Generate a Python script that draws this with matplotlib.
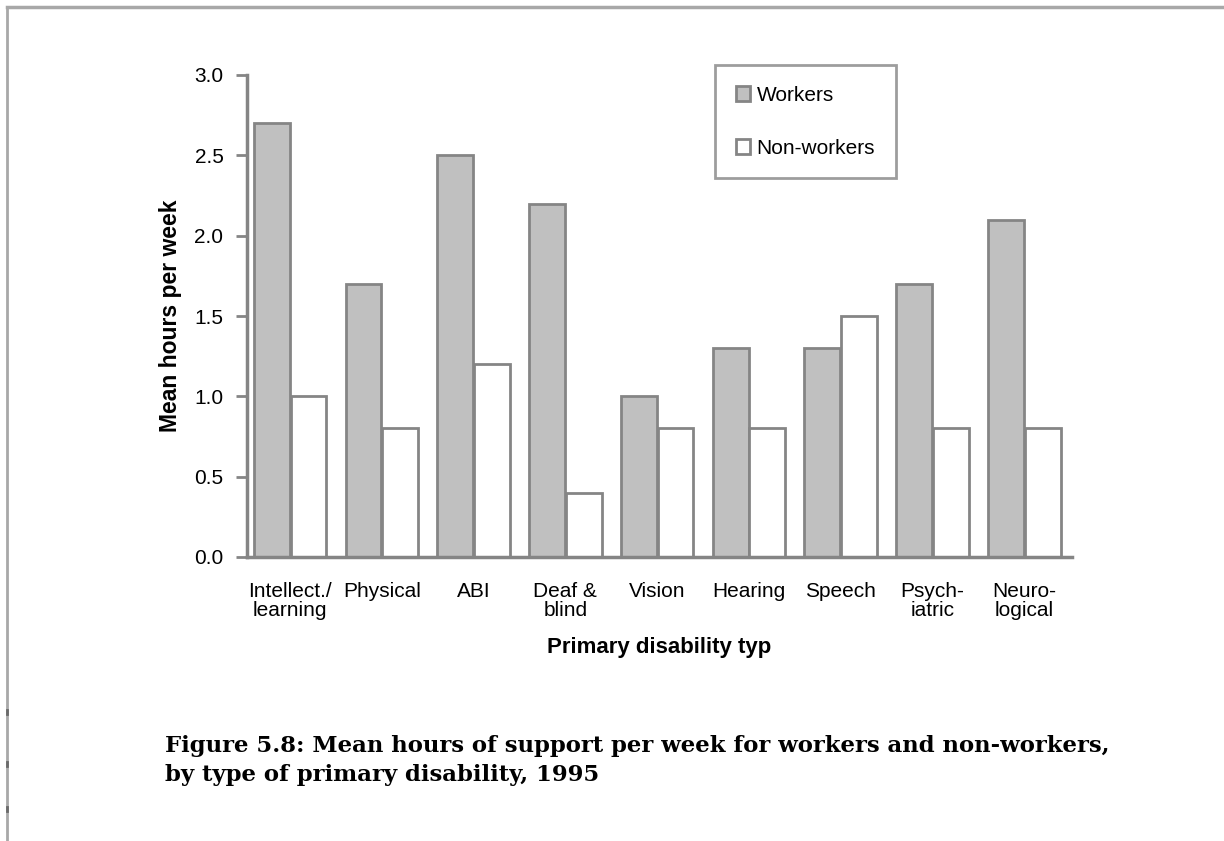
import numpy as np
import matplotlib.pyplot as plt
from matplotlib.lines import Line2D
from matplotlib.patches import Patch

categories = ['Intellect./\nlearning', 'Physical', 'ABI', 'Deaf &\nblind', 'Vision',
              'Hearing', 'Speech', 'Psych-\niatric', 'Neuro-\nlogical']
workers = [2.7, 1.7, 2.5, 2.2, 1.0, 1.3, 1.3, 1.7, 2.1]
non_workers = [1.0, 0.8, 1.2, 0.4, 0.8, 0.8, 1.5, 0.8, 0.8]
yticks = [0.0, 0.5, 1.0, 1.5, 2.0, 2.5, 3.0]
caption = ('Figure 5.8: Mean hours of support per week for workers and non-workers,\n'
           'by type of primary disability, 1995')

plt.rcParams['font.family'] = ['Liberation Sans', 'DejaVu Sans']
edge = '#858585'
grey = '#c0c0c0'

W, H = 1224, 841
fig = plt.figure(figsize=(W / 100, H / 100), dpi=100)
ax = fig.add_axes([247 / W, 1 - 557 / H, 825 / W, 482 / H])

x = np.arange(len(categories))
w = 0.39
ax.bar(x - 0.2, workers, w, color=grey, edgecolor=edge, linewidth=2)
ax.bar(x + 0.2, non_workers, w, color='white', edgecolor=edge, linewidth=2)

ax.set_xlim(-0.47, len(categories) - 0.48)
ax.set_ylim(0, 3.0)
ax.set_yticks(yticks)
ax.set_yticklabels(['%.1f' % v for v in yticks], fontsize=15)
ax.set_xticks(x)
ax.set_xticklabels(categories, fontsize=15, linespacing=1.02)
ax.tick_params(axis='x', length=0, pad=18)
ax.tick_params(axis='y', length=8, width=2, color=edge, pad=9)

for s in ['top', 'right']:
    ax.spines[s].set_visible(False)
for s in ['left', 'bottom']:
    ax.spines[s].set_color(edge)
    ax.spines[s].set_linewidth(2.5)

ax.set_ylabel('Mean hours per week', fontsize=16.5, fontweight='bold', labelpad=9)
ax.set_xlabel('Primary disability typ', fontsize=16, fontweight='bold', labelpad=12)

handles = [Patch(facecolor=grey, edgecolor=edge, linewidth=2),
           Patch(facecolor='white', edgecolor=edge, linewidth=2)]
leg = fig.legend(handles, ['Workers', 'Non-workers'], loc='upper left',
                 bbox_to_anchor=(715 / W, 1 - 65 / H), fontsize=15,
                 handlelength=0.7, handleheight=0.7, handletextpad=0.3,
                 labelspacing=1.62, borderpad=1.0, borderaxespad=0,
                 fancybox=False, frameon=True)
leg.get_frame().set_edgecolor(edge)
leg.get_frame().set_linewidth(2)

# page frame lines and small marks on the left rule
fig.add_artist(Line2D([7 / W, 1], [1 - 7 / H] * 2, color='#a8a8a8', lw=2.5))
fig.add_artist(Line2D([7 / W] * 2, [0, 1 - 7 / H], color='#a8a8a8', lw=2))
for yy in [712, 764, 809]:
    fig.add_artist(Line2D([7 / W] * 2, [1 - (yy - 2) / H, 1 - (yy + 2) / H],
                          color='#6a6a6a', lw=2))

cap = fig.text(165 / W, 1 - 735 / H, caption, fontsize=16, fontweight='bold',
               family='DejaVu Serif', va='top', linespacing=1.4)
# size the caption so its first line spans the printed width
fig.canvas.draw()
first = fig.text(0, 0, caption.split('\n')[0], fontsize=16, fontweight='bold',
                 family='DejaVu Serif')
wpx = first.get_window_extent().width
first.remove()
cap.set_fontsize(16 * 948 / wpx)

fig.savefig('out.png', dpi=100)
